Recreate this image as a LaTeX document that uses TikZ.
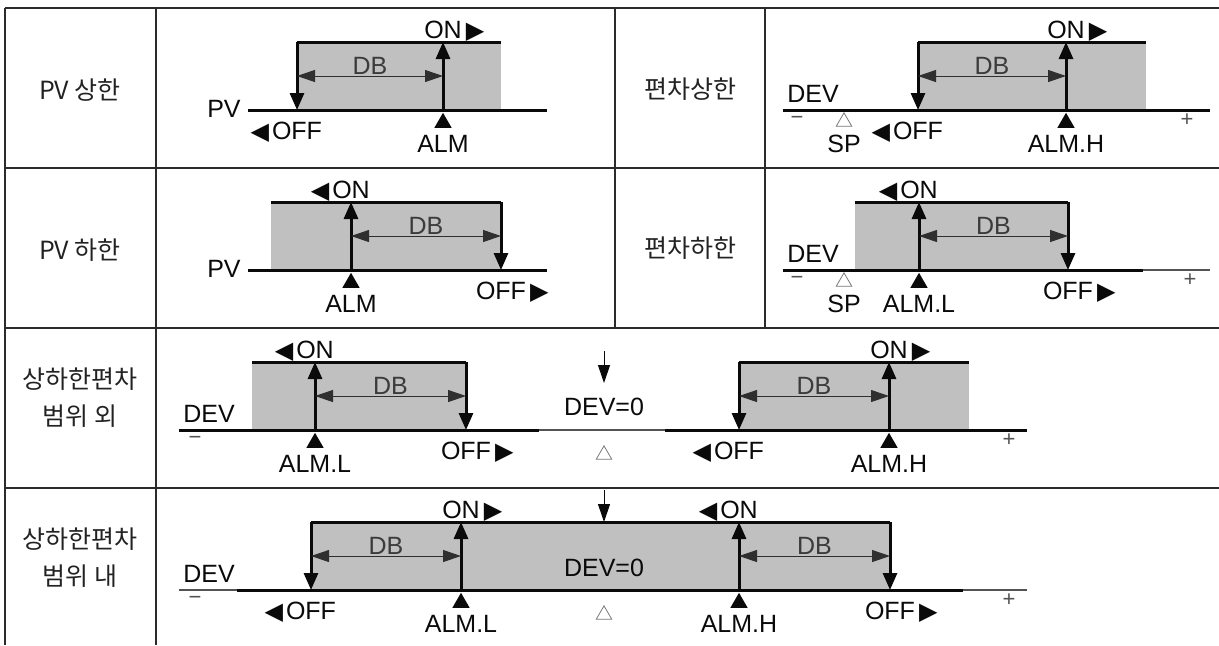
\documentclass[tikz,border=0pt]{standalone}
\usepackage{fontspec}
\setmainfont{Liberation Sans}
\newfontfamily\krfont{Noto Sans CJK KR}
\newfontfamily\symfont{DejaVu Sans}
\usetikzlibrary{
  arrows.meta,
  shapes.geometric,
  positioning
}
\definecolor{alGrid}{HTML}{2B2B2B}
\definecolor{alBand}{HTML}{C0C0C0}
\definecolor{alInk}{HTML}{0A0A0A}
\newcommand{\tril}{\llap{\smash{\symfont\fontsize{12}{12}\selectfont ◀}\kern1.5pt}}
\newcommand{\trir}{\rlap{\kern2pt\smash{\symfont\fontsize{12}{12}\selectfont ▶}}}
\tikzset{
  tabline/.style={alGrid, line width=0.8pt},
  band/.style={fill=alBand, draw=none},
  hyst/.style={alInk, line width=1.5pt},
  thinbase/.style={alInk!70, line width=0.9pt},
  sig/.style={hyst, -{Triangle[length=8.5pt, width=7pt]}},
  dbarrow/.style={alInk!85, line width=0.5pt,
    {Triangle[length=9pt, width=6pt]}-{Triangle[length=9pt, width=6pt]}},
  zeroarrow/.style={alInk, line width=0.5pt, -{Triangle[length=9pt, width=6pt]}},
  lbl/.style={font=\fontsize{12.5}{14}\selectfont, inner sep=0pt, text=alInk},
  dblbl/.style={lbl, text=alInk!80, midway, above, inner sep=0.6pt},
  sgn/.style={font=\fontsize{11}{12}\selectfont, inner sep=0pt, text=alInk!70},
  rowlbl/.style={font=\krfont\fontsize{12.5}{18.5}\selectfont, align=center, text=alInk!90},
  almmark/.style={regular polygon, regular polygon sides=3, fill=alInk,
    inner sep=0pt, minimum size=10pt, anchor=corner 1},
  spmark/.style={regular polygon, regular polygon sides=3, draw=alInk!55,
    line width=0.4pt, inner sep=0pt, minimum size=9pt, anchor=corner 1}
}

\begin{document}
\begin{tikzpicture}[x=0.5pt, y=-0.5pt]
  \useasboundingbox (0,0) rectangle (1219,645);
  % table
  \foreach \ry in {8,168,328,488}
    \draw[tabline] (5,\ry) -- (1219,\ry);
  \foreach \cx in {5,156}
    \draw[tabline] (\cx,8) -- (\cx,645);
  \foreach \cx in {615,765}
    \draw[tabline] (\cx,8) -- (\cx,328);

  \node[rowlbl] (lab-ph) at (80,90) {PV 상한};
  \node[rowlbl] (lab-dh) at (690,89) {편차상한};
  \node[rowlbl] (lab-pl) at (80,250) {PV 하한};
  \node[rowlbl] (lab-dl) at (690,248) {편차하한};
  \node[rowlbl] (lab-o) at (80,398) {상하한편차\\범위 외};
  \node[rowlbl] (lab-i) at (80,558) {상하한편차\\범위 내};

  % PV high
  \begin{scope}[shift={(0,8)}]
    \coordinate (ph-b0) at (248,102);
    \coordinate (ph-b1) at (547,102);
    \coordinate (ph-offt) at (297,34);
    \coordinate (ph-off) at (297,102);
    \coordinate (ph-almt) at (443,34);
    \coordinate (ph-alm) at (443,102);
    \coordinate (ph-end) at (501,34);
    \coordinate (ph-d0) at (297,68);
    \coordinate (ph-d1) at (443,68);
    \fill[band] (ph-offt) rectangle (ph-end |- ph-off);
    \draw[hyst] (ph-b0) -- (ph-b1);
    \draw[hyst] (ph-offt) -- (ph-end);
    \draw[sig] (ph-offt) -- (ph-off);
    \draw[sig] (ph-alm) -- (ph-almt);
    \draw[dbarrow] (ph-d0) -- node[dblbl] (ph-db) {DB} (ph-d1);
    \node[lbl, anchor=east] (ph-pv) at (241,101) {PV};
    \node[lbl] (ph-offl) at (297,123) {\tril OFF};
    \node[lbl] (ph-onl) at (443,22) {ON\trir};
    \node[almmark] (ph-m) at (443,104) {};
    \node[lbl, below=3.5pt of ph-m] (ph-almn) {ALM};
  \end{scope}

  % DEV high
  \begin{scope}[shift={(0,8)}]
    \coordinate (dh-b0) at (783,102);
    \coordinate (dh-b1) at (1210,102);
    \coordinate (dh-offt) at (918,34);
    \coordinate (dh-off) at (918,102);
    \coordinate (dh-almt) at (1066,34);
    \coordinate (dh-alm) at (1066,102);
    \coordinate (dh-end) at (1146,34);
    \coordinate (dh-d0) at (918,68);
    \coordinate (dh-d1) at (1066,68);
    \fill[band] (dh-offt) rectangle (dh-end |- dh-off);
    \draw[hyst] (dh-b0) -- (dh-b1);
    \draw[hyst] (dh-offt) -- (dh-end);
    \draw[sig] (dh-offt) -- (dh-off);
    \draw[sig] (dh-alm) -- (dh-almt);
    \draw[dbarrow] (dh-d0) -- node[dblbl] (dh-db) {DB} (dh-d1);
    \node[lbl, anchor=west] (dh-dev) at (787,86) {DEV};
    \node[sgn] (dh-minus) at (797,112) {−};
    \node[spmark] (dh-sp) at (844,104) {};
    \node[lbl, below=4pt of dh-sp] (dh-spn) {SP};
    \node[sgn] (dh-plus) at (1187,112) {+};
    \node[lbl] (dh-offl) at (918,123) {\tril OFF};
    \node[lbl] (dh-onl) at (1066,22) {ON\trir};
    \node[almmark] (dh-m) at (1066,104) {};
    \node[lbl, below=3.5pt of dh-m] (dh-almn) {ALM.H};
  \end{scope}

  % PV low
  \begin{scope}[shift={(0,168)}]
    \coordinate (pl-b0) at (248,102);
    \coordinate (pl-b1) at (547,102);
    \coordinate (pl-start) at (271,34);
    \coordinate (pl-almt) at (351,34);
    \coordinate (pl-alm) at (351,102);
    \coordinate (pl-offt) at (501,34);
    \coordinate (pl-off) at (501,102);
    \coordinate (pl-d0) at (351,68);
    \coordinate (pl-d1) at (501,68);
    \fill[band] (pl-start) rectangle (pl-off);
    \draw[hyst] (pl-b0) -- (pl-b1);
    \draw[hyst] (pl-start) -- (pl-offt);
    \draw[sig] (pl-alm) -- (pl-almt);
    \draw[sig] (pl-offt) -- (pl-off);
    \draw[dbarrow] (pl-d0) -- node[dblbl] (pl-db) {DB} (pl-d1);
    \node[lbl, anchor=east] (pl-pv) at (241,101) {PV};
    \node[lbl] (pl-onl) at (351,22) {\tril ON};
    \node[lbl] (pl-offl) at (501,123) {OFF\trir};
    \node[almmark] (pl-m) at (351,104) {};
    \node[lbl, below=3.5pt of pl-m] (pl-almn) {ALM};
  \end{scope}

  % DEV low
  \begin{scope}[shift={(0,168)}]
    \coordinate (dl-b0) at (783,102);
    \coordinate (dl-b1) at (1143,102);
    \coordinate (dl-b2) at (1210,102);
    \coordinate (dl-start) at (855,34);
    \coordinate (dl-almt) at (919,34);
    \coordinate (dl-alm) at (919,102);
    \coordinate (dl-offt) at (1068,34);
    \coordinate (dl-off) at (1068,102);
    \coordinate (dl-d0) at (919,68);
    \coordinate (dl-d1) at (1068,68);
    \fill[band] (dl-start) rectangle (dl-off);
    \draw[thinbase] (dl-b1) -- (dl-b2);
    \draw[hyst] (dl-b0) -- (dl-b1);
    \draw[hyst] (dl-start) -- (dl-offt);
    \draw[sig] (dl-alm) -- (dl-almt);
    \draw[sig] (dl-offt) -- (dl-off);
    \draw[dbarrow] (dl-d0) -- node[dblbl] (dl-db) {DB} (dl-d1);
    \node[lbl, anchor=west] (dl-dev) at (787,86) {DEV};
    \node[sgn] (dl-minus) at (797,112) {−};
    \node[spmark] (dl-sp) at (844,104) {};
    \node[lbl, below=4pt of dl-sp] (dl-spn) {SP};
    \node[sgn] (dl-plus) at (1190,112) {+};
    \node[lbl] (dl-onl) at (919,22) {\tril ON};
    \node[lbl] (dl-offl) at (1068,123) {OFF\trir};
    \node[almmark] (dl-m) at (919,104) {};
    \node[lbl, below=3.5pt of dl-m] (dl-almn) {ALM.L};
  \end{scope}

  % outside band
  \begin{scope}[shift={(0,328)}]
    \coordinate (o-b0) at (179,102);
    \coordinate (o-b1) at (539,102);
    \coordinate (o-b2) at (665,102);
    \coordinate (o-b3) at (1027,102);
    \node[lbl, anchor=west] (o-dev) at (183,86) {DEV};
    \node[sgn] (o-minus) at (195,112) {−};
    \node[sgn] (o-plus) at (1009,112) {+};
    % low side
    \coordinate (oa-start) at (252,34);
    \coordinate (oa-almt) at (315,34);
    \coordinate (oa-alm) at (315,102);
    \coordinate (oa-offt) at (466,34);
    \coordinate (oa-off) at (466,102);
    \coordinate (oa-d0) at (315,68);
    \coordinate (oa-d1) at (466,68);
    \fill[band] (oa-start) rectangle (oa-off);
    % high side
    \coordinate (ob-offt) at (739,34);
    \coordinate (ob-off) at (739,102);
    \coordinate (ob-almt) at (889,34);
    \coordinate (ob-alm) at (889,102);
    \coordinate (ob-end) at (969,34);
    \coordinate (ob-d0) at (739,68);
    \coordinate (ob-d1) at (889,68);
    \fill[band] (ob-offt) rectangle (ob-end |- ob-off);
    \draw[hyst] (o-b0) -- (o-b1);
    \draw[thinbase] (o-b1) -- (o-b2);
    \draw[hyst] (o-b2) -- (o-b3);
    \draw[hyst] (oa-start) -- (oa-offt);
    \draw[sig] (oa-alm) -- (oa-almt);
    \draw[sig] (oa-offt) -- (oa-off);
    \draw[dbarrow] (oa-d0) -- node[dblbl] (oa-db) {DB} (oa-d1);
    \node[lbl] (oa-onl) at (315,22) {\tril ON};
    \node[lbl] (oa-offl) at (466,123) {OFF\trir};
    \node[almmark] (oa-m) at (315,104) {};
    \node[lbl, below=3.5pt of oa-m] (oa-almn) {ALM.L};
    \draw[hyst] (ob-offt) -- (ob-end);
    \draw[sig] (ob-offt) -- (ob-off);
    \draw[sig] (ob-alm) -- (ob-almt);
    \draw[dbarrow] (ob-d0) -- node[dblbl] (ob-db) {DB} (ob-d1);
    \node[lbl] (ob-offl) at (739,123) {\tril OFF};
    \node[lbl] (ob-onl) at (889,22) {ON\trir};
    \node[almmark] (ob-m) at (889,104) {};
    \node[lbl, below=3.5pt of ob-m] (ob-almn) {ALM.H};
    % zero
    \coordinate (oz-t) at (604,23);
    \coordinate (oz-b) at (604,55);
    \draw[zeroarrow] (oz-t) -- (oz-b);
    \node[lbl] (oz-n) at (604,79) {DEV=0};
    \node[spmark] (oz-sp) at (604,117) {};
  \end{scope}

  % inside band
  \begin{scope}[shift={(0,488)}]
    \coordinate (i-b0) at (179,102);
    \coordinate (i-b1) at (237,102);
    \coordinate (i-b2) at (963,102);
    \coordinate (i-b3) at (1027,102);
    \coordinate (i-offt) at (311,34);
    \coordinate (i-off) at (311,102);
    \coordinate (i-lt) at (461,34);
    \coordinate (i-l) at (461,102);
    \coordinate (i-ht) at (739,34);
    \coordinate (i-h) at (739,102);
    \coordinate (i-off2t) at (890,34);
    \coordinate (i-off2) at (890,102);
    \coordinate (i-d0) at (311,68);
    \coordinate (i-d1) at (461,68);
    \coordinate (i-d2) at (739,68);
    \coordinate (i-d3) at (890,68);
    \fill[band] (i-offt) rectangle (i-off2);
    \draw[thinbase] (i-b0) -- (i-b1);
    \draw[hyst] (i-b1) -- (i-b2);
    \draw[thinbase] (i-b2) -- (i-b3);
    \draw[hyst] (i-offt) -- (i-off2t);
    \draw[sig] (i-offt) -- (i-off);
    \draw[sig] (i-l) -- (i-lt);
    \draw[sig] (i-h) -- (i-ht);
    \draw[sig] (i-off2t) -- (i-off2);
    \draw[dbarrow] (i-d0) -- node[dblbl] (i-db1) {DB} (i-d1);
    \draw[dbarrow] (i-d2) -- node[dblbl] (i-db2) {DB} (i-d3);
    \node[lbl, anchor=west] (i-dev) at (183,86) {DEV};
    \node[sgn] (i-minus) at (195,112) {−};
    \node[sgn] (i-plus) at (1009,112) {+};
    \node[lbl] (i-offl) at (311,123) {\tril OFF};
    \node[lbl] (i-onl) at (461,22) {ON\trir};
    \node[lbl] (i-on2l) at (739,22) {\tril ON};
    \node[lbl] (i-off2l) at (890,123) {OFF\trir};
    \node[almmark] (i-ml) at (461,104) {};
    \node[lbl, below=3.5pt of i-ml] (i-lname) {ALM.L};
    \node[almmark] (i-mh) at (739,104) {};
    \node[lbl, below=3.5pt of i-mh] (i-hname) {ALM.H};
    \coordinate (iz-t) at (604,2);
    \coordinate (iz-b) at (604,34);
    \draw[zeroarrow] (iz-t) -- (iz-b);
    \node[lbl] (iz-n) at (604,80) {DEV=0};
    \node[spmark] (iz-sp) at (604,117) {};
  \end{scope}
\end{tikzpicture}
\end{document}
